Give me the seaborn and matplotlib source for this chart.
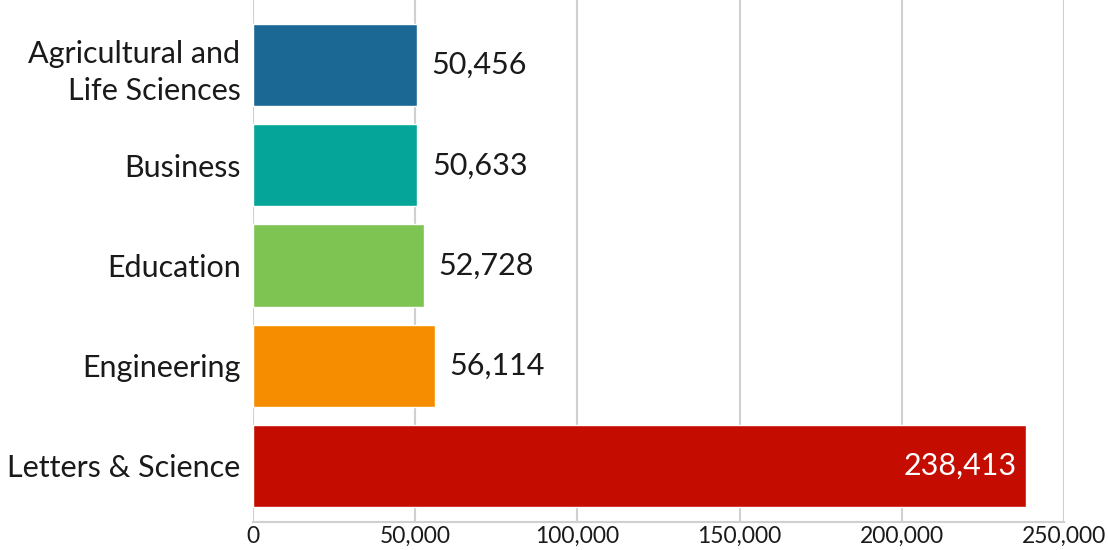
import matplotlib
matplotlib.use("Agg")
import matplotlib.pyplot as plt
import seaborn as sns
import pandas as pd

categories = ["Agricultural and\nLife Sciences", "Business", "Education", "Engineering", "Letters & Science"]
values = [50456, 50633, 52728, 56114, 238413]
colors = ["#1B6895", "#05A59A", "#7DC452", "#F68D00", "#C40D00"]
xticks = [0, 50000, 100000, 150000, 200000, 250000]

sns.set_theme(style="white")
plt.rcParams['font.family'] = ['Lato', 'DejaVu Sans']

df = pd.DataFrame({"cat": categories, "val": values})
fig = plt.figure(figsize=(11.08, 5.5), dpi=100)
ax = fig.add_axes([253/1108, 1 - 522/550, (1064-253)/1108, 522/550])
sns.barplot(data=df, y="cat", x="val", hue="cat", palette=colors, legend=False,
            width=0.82, saturation=1, ax=ax, orient="h", zorder=3)
ax.set_xlim(0, 250000)
ax.set_ylim(4.56, -0.65)
ax.set_xticks(xticks)
ax.set_xticklabels([f"{v:,}" for v in xticks], fontsize=16.5, color="#1a1a1a")
ax.tick_params(axis="x", length=0, pad=3)
ax.tick_params(axis="y", length=0, pad=9, labelsize=22, labelcolor="#1a1a1a")
ax.set_xlabel("")
ax.set_ylabel("")
ax.xaxis.grid(True, color="#d0d0d0", linewidth=1.5, zorder=0)
for s in ["top", "right", "left"]:
    ax.spines[s].set_visible(False)
ax.spines["bottom"].set_color("#d0d0d0")
ax.spines["bottom"].set_linewidth(1.5)
for lab in ax.get_yticklabels():
    lab.set_horizontalalignment("right")
    lab.set_multialignment("right")
    lab.set_linespacing(1.4)

for i, v in enumerate(values):
    if v > 150000:
        ax.text(v - 3000, i, f"{v:,}", ha="right", va="center", fontsize=22, color="white", zorder=4)
    else:
        ax.text(v + 4500, i, f"{v:,}", ha="left", va="center", fontsize=22, color="#1a1a1a", zorder=4)

fig.savefig("out.png", dpi=100)
